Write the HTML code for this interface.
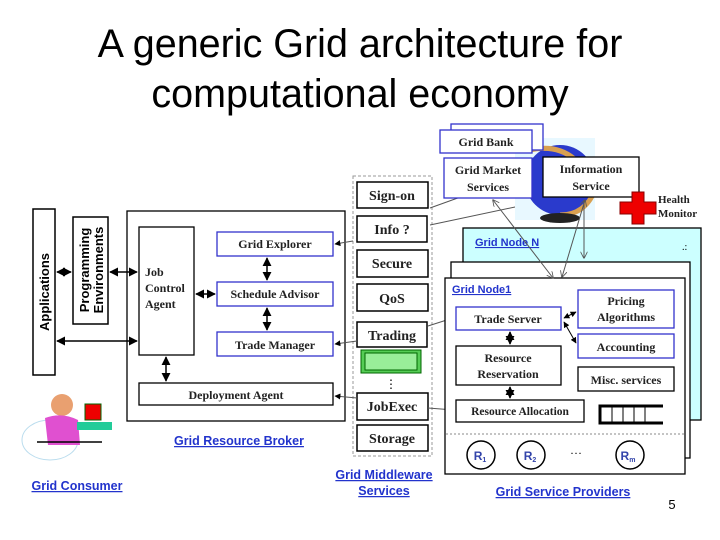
<!DOCTYPE html>
<html><head><meta charset="utf-8"><style>
html,body{margin:0;padding:0;background:#fff;}
svg{display:block;}
.s{font-family:"Liberation Serif",serif;font-weight:bold;font-size:12px;fill:#222;}
.a{font-family:"Liberation Sans",sans-serif;font-weight:bold;font-size:12.5px;fill:#2233cc;text-decoration:underline;}
</style></head><body>
<svg width="720" height="540" viewBox="0 0 720 540" xmlns="http://www.w3.org/2000/svg">
<defs>
<marker id="ar" viewBox="0 0 10 10" refX="9" refY="5" markerWidth="6" markerHeight="6" orient="auto-start-reverse"><path d="M0,0L10,5L0,10z" fill="#000"/></marker>
<marker id="ag" viewBox="0 0 10 10" refX="9" refY="5" markerWidth="7" markerHeight="7" orient="auto-start-reverse"><path d="M0,0L10,5L0,10" fill="none" stroke="#555" stroke-width="1.2"/></marker>
</defs>
<text x="360" y="57" text-anchor="middle" font-family="Liberation Sans,sans-serif" font-size="39.5" fill="#000">A generic Grid architecture for</text>
<text x="360" y="107" text-anchor="middle" font-family="Liberation Sans,sans-serif" font-size="39.5" fill="#000">computational economy</text>

<!-- consumer side -->
<rect x="33" y="209" width="22" height="166" fill="#fff" stroke="#000" stroke-width="1.5"/>
<text transform="translate(49,292) rotate(-90)" text-anchor="middle" font-family="Liberation Sans,sans-serif" font-weight="bold" font-size="13">Applications</text>
<rect x="73" y="217" width="35" height="107" fill="#fff" stroke="#000" stroke-width="1.5"/>
<text transform="translate(89,270) rotate(-90)" text-anchor="middle" font-family="Liberation Sans,sans-serif" font-weight="bold" font-size="13">Programming</text>
<text transform="translate(103,270) rotate(-90)" text-anchor="middle" font-family="Liberation Sans,sans-serif" font-weight="bold" font-size="13">Environments</text>

<!-- broker -->
<rect x="127" y="211" width="218" height="210" fill="#fff" stroke="#000" stroke-width="1.3"/>
<rect x="139" y="227" width="55" height="128" fill="#fff" stroke="#000" stroke-width="1.3"/>
<line x1="57" y1="272" x2="71" y2="272" stroke="#000" stroke-width="1.5" marker-start="url(#ar)" marker-end="url(#ar)"/>
<line x1="110" y1="272" x2="137" y2="272" stroke="#000" stroke-width="1.5" marker-start="url(#ar)" marker-end="url(#ar)"/>
<line x1="57" y1="341" x2="137" y2="341" stroke="#000" stroke-width="1.5" marker-start="url(#ar)" marker-end="url(#ar)"/>
<text class="s" x="145" y="276">Job</text><text class="s" x="145" y="292">Control</text><text class="s" x="145" y="308">Agent</text>
<rect x="217" y="232" width="116" height="24" fill="#fff" stroke="#3333cc" stroke-width="1.3"/>
<text class="s" x="275" y="248" text-anchor="middle">Grid Explorer</text>
<rect x="217" y="282" width="116" height="24" fill="#fff" stroke="#3333cc" stroke-width="1.3"/>
<text class="s" x="275" y="298" text-anchor="middle">Schedule Advisor</text>
<rect x="217" y="332" width="116" height="24" fill="#fff" stroke="#3333cc" stroke-width="1.3"/>
<text class="s" x="275" y="349" text-anchor="middle">Trade Manager</text>
<rect x="139" y="383" width="194" height="22" fill="#fff" stroke="#000" stroke-width="1.3"/>
<text class="s" x="236" y="399" text-anchor="middle">Deployment Agent</text>
<line x1="267" y1="258" x2="267" y2="280" stroke="#000" stroke-width="1.5" marker-start="url(#ar)" marker-end="url(#ar)"/>
<line x1="267" y1="308" x2="267" y2="330" stroke="#000" stroke-width="1.5" marker-start="url(#ar)" marker-end="url(#ar)"/>
<line x1="196" y1="294" x2="215" y2="294" stroke="#000" stroke-width="1.5" marker-start="url(#ar)" marker-end="url(#ar)"/>
<line x1="166" y1="357" x2="166" y2="381" stroke="#000" stroke-width="1.5" marker-start="url(#ar)" marker-end="url(#ar)"/>
<text class="a" x="239" y="445" text-anchor="middle">Grid Resource Broker</text>

<!-- consumer figure -->
<ellipse cx="50" cy="440" rx="28" ry="20" fill="none" stroke="#bde" stroke-width="1"/>
<circle cx="62" cy="405" r="11" fill="#e9a070"/>
<path d="M45,418 Q62,412 78,420 L80,445 L48,445 Z" fill="#e050d0"/>
<rect x="85" y="404" width="16" height="16" fill="#e00" stroke="#060"/>
<rect x="77" y="422" width="35" height="8" fill="#2c9"/>
<line x1="37" y1="442" x2="102" y2="442" stroke="#000" stroke-width="1.5"/>
<text class="a" x="77" y="490" text-anchor="middle">Grid Consumer</text>

<!-- middleware -->
<rect x="353" y="176" width="79" height="280" fill="#fff" stroke="#999" stroke-dasharray="3,2"/>
<g fill="#fff" stroke="#000" stroke-width="1.5">
<rect x="357" y="182" width="71" height="26"/><rect x="357" y="216" width="70" height="26"/>
<rect x="357" y="250" width="71" height="27"/><rect x="357" y="284" width="71" height="27"/>
<rect x="357" y="322" width="70" height="25"/><rect x="357" y="393" width="71" height="27"/>
<rect x="357" y="425" width="71" height="26"/></g>
<g class="s" text-anchor="middle" style="font-size:14px">
<text x="392" y="200">Sign-on</text><text x="392" y="234">Info ?</text><text x="392" y="268">Secure</text>
<text x="392" y="303">QoS</text><text x="392" y="340">Trading</text><text x="392" y="411">JobExec</text><text x="392" y="443">Storage</text></g>
<rect x="361" y="350" width="60" height="23" fill="#5c5" stroke="#060"/>
<rect x="365" y="353" width="52" height="17" fill="#9e9" stroke="#060"/>
<text x="391" y="388" text-anchor="middle" font-size="12">⋮</text>
<text class="a" x="384" y="479" text-anchor="middle">Grid Middleware</text>
<text class="a" x="384" y="495" text-anchor="middle">Services</text>
<g stroke="#555" stroke-width="1" fill="none">
<line x1="353" y1="241" x2="335" y2="244" marker-end="url(#ar)"/>
<line x1="357" y1="341" x2="335" y2="344" marker-end="url(#ar)"/>
<line x1="357" y1="398" x2="335" y2="396" marker-end="url(#ar)"/>
<line x1="430" y1="208" x2="480" y2="190" marker-end="url(#ar)"/>
<line x1="430" y1="225" x2="548" y2="200"/>
<line x1="428" y1="326" x2="453" y2="318" marker-end="url(#ar)"/>
<line x1="428" y1="408" x2="454" y2="410" marker-end="url(#ar)"/>
</g>

<!-- globe -->
<rect x="515" y="138" width="80" height="82" fill="#e8f8ff"/>
<circle cx="560" cy="180" r="35" fill="#2a3acc"/>
<path d="M530,150 Q575,140 595,190 Q585,215 560,215" fill="none" stroke="#d9a050" stroke-width="5"/>
<ellipse cx="560" cy="218" rx="20" ry="5" fill="#222"/>
<!-- bank etc -->
<rect x="451" y="124" width="92" height="26" fill="#fff" stroke="#3333cc" stroke-width="1.3"/>
<rect x="440" y="130" width="92" height="23" fill="#fff" stroke="#3333cc" stroke-width="1.3"/>
<text class="s" x="486" y="146" text-anchor="middle">Grid Bank</text>
<rect x="444" y="158" width="88" height="40" fill="#fff" stroke="#3333cc" stroke-width="1.3"/>
<text class="s" x="488" y="174" text-anchor="middle">Grid Market</text><text class="s" x="488" y="191" text-anchor="middle">Services</text>
<rect x="543" y="157" width="96" height="40" fill="#fff" stroke="#000" stroke-width="1.3"/>
<text class="s" x="591" y="173" text-anchor="middle">Information</text><text class="s" x="591" y="190" text-anchor="middle">Service</text>
<path d="M632,192h12v10h12v12h-12v10h-12v-10h-12v-12h12z" fill="#e00" stroke="#800"/>
<text class="s" x="658" y="203" style="font-size:11px">Health</text>
<text class="s" x="658" y="217" style="font-size:11px">Monitor</text>

<!-- nodes -->
<rect x="463" y="228" width="238" height="192" fill="#ccffff" stroke="#000" stroke-width="1.3"/>
<text class="a" x="475" y="246" style="font-size:11px">Grid Node N</text>
<text x="682" y="250" font-size="10">.:</text>
<rect x="451" y="262" width="239" height="196" fill="#fff" stroke="#000" stroke-width="1.3"/>
<rect x="445" y="278" width="240" height="196" fill="#fff" stroke="#000" stroke-width="1.3"/>
<text class="a" x="452" y="293" style="font-size:11px">Grid Node1</text>
<rect x="456" y="307" width="105" height="23" fill="#fff" stroke="#3333cc" stroke-width="1.3"/>
<text class="s" x="508" y="323" text-anchor="middle">Trade Server</text>
<rect x="578" y="290" width="96" height="38" fill="#fff" stroke="#3333cc" stroke-width="1.3"/>
<text class="s" x="626" y="305" text-anchor="middle">Pricing</text><text class="s" x="626" y="321" text-anchor="middle">Algorithms</text>
<rect x="578" y="334" width="96" height="24" fill="#fff" stroke="#3333cc" stroke-width="1.3"/>
<text class="s" x="626" y="351" text-anchor="middle">Accounting</text>
<rect x="456" y="346" width="105" height="39" fill="#fff" stroke="#000" stroke-width="1.3"/>
<text class="s" x="508" y="362" text-anchor="middle">Resource</text><text class="s" x="508" y="378" text-anchor="middle">Reservation</text>
<rect x="578" y="367" width="96" height="24" fill="#fff" stroke="#000" stroke-width="1.3"/>
<text class="s" x="626" y="384" text-anchor="middle">Misc. services</text>
<rect x="456" y="400" width="128" height="22" fill="#fff" stroke="#000" stroke-width="1.3"/>
<text class="s" x="520" y="415" text-anchor="middle" style="font-size:11.5px">Resource Allocation</text>
<g stroke="#000" fill="none"><path d="M663,406H600V423H663" stroke-width="3"/>
<line x1="612" y1="406" x2="612" y2="423"/><line x1="623" y1="406" x2="623" y2="423"/><line x1="634" y1="406" x2="634" y2="423"/><line x1="645" y1="406" x2="645" y2="423"/></g>
<line x1="510" y1="332" x2="510" y2="344" stroke="#000" stroke-width="1.5" marker-start="url(#ar)" marker-end="url(#ar)"/>
<line x1="510" y1="387" x2="510" y2="398" stroke="#000" stroke-width="1.5" marker-start="url(#ar)" marker-end="url(#ar)"/>
<line x1="564" y1="318" x2="576" y2="312" stroke="#000" stroke-width="1" marker-start="url(#ar)" marker-end="url(#ar)"/>
<line x1="564" y1="322" x2="576" y2="343" stroke="#000" stroke-width="1" marker-start="url(#ar)" marker-end="url(#ar)"/>
<line x1="446" y1="434" x2="684" y2="434" stroke="#888" stroke-dasharray="2,2"/>
<g fill="#fff" stroke="#000" stroke-width="1.5"><circle cx="481" cy="455" r="14"/><circle cx="531" cy="455" r="14"/><circle cx="630" cy="455" r="14"/></g>
<g font-family="Liberation Sans,sans-serif" font-weight="bold" font-size="12" fill="#3344aa" text-anchor="middle">
<text x="480" y="460">R<tspan font-size="7" dy="2">1</tspan></text><text x="530" y="460">R<tspan font-size="7" dy="2">2</tspan></text><text x="628" y="460">R<tspan font-size="7" dy="2">m</tspan></text></g>
<text x="576" y="457" text-anchor="middle" font-size="12">···</text>
<text class="a" x="563" y="496" text-anchor="middle">Grid Service Providers</text>
<text x="672" y="509" text-anchor="middle" font-family="Liberation Sans,sans-serif" font-size="13">5</text>

<!-- market/info connections -->
<g stroke="#555" stroke-width="1" fill="none">
<line x1="493" y1="200" x2="553" y2="278" marker-start="url(#ag)" marker-end="url(#ag)"/>
<line x1="585" y1="200" x2="562" y2="277" marker-start="url(#ag)" marker-end="url(#ag)"/>
<line x1="584" y1="200" x2="584" y2="258" marker-end="url(#ag)"/>
</g>
</svg>
</body></html>
